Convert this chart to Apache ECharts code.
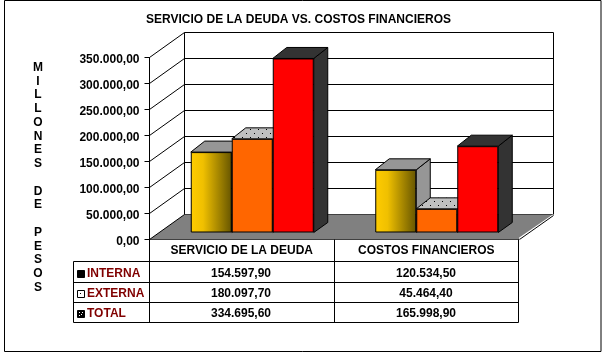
<!DOCTYPE html>
<html>
<head>
<meta charset="utf-8">
<style>html,body{margin:0;padding:0;background:#fff}#c{width:603px;height:359px}</style>
<script src="https://cdn.jsdelivr.net/npm/echarts@6/dist/echarts.min.js"></script>
</head>
<body>
<div id="c"></div>
<script>
const chartTitle = 'SERVICIO DE LA DEUDA VS. COSTOS FINANCIEROS';
const categories = ['SERVICIO DE LA DEUDA', 'COSTOS FINANCIEROS'];
const seriesNames = ['INTERNA', 'EXTERNA', 'TOTAL'];
const interna = [154597.90, 120534.50];
const externa = [180097.70, 45464.40];
const total = [334695.60, 165998.90];
const yTicks = [0, 50000, 100000, 150000, 200000, 250000, 300000, 350000];
const sideLabel = 'MILLONES DE PESOS';

const allSeries = [interna, externa, total];
const FONT = '"Liberation Sans", Arial, sans-serif';
const fmt = v => {
  const [a, b] = v.toFixed(2).split('.');
  return a.replace(/\B(?=(\d{3})+$)/g, '.') + ',' + b;
};

/* plane geometry */
const FRONT = {left: 149.5, top: 57.5, width: 369, height: 182};
const BACK = {left: 184.5, top: 32.5, width: 369, height: 182};
const BARS = {left: 160, top: 50.5, width: 369, height: 182};
const WALL_DX = BACK.left - FRONT.left, WALL_DY = BACK.top - FRONT.top;
const BW = 41, DX = 14, DY = -11;

/* dotted fill for the top of the second column */
function dotted() {
  const cv = document.createElement('canvas');
  cv.width = 8; cv.height = 8;
  const g = cv.getContext('2d');
  g.fillStyle = '#C0C0C0'; g.fillRect(0, 0, 8, 8);
  g.fillStyle = '#000';
  g.fillRect(2, 1, 1, 1); g.fillRect(6, 5, 1, 1);
  return {image: cv, repeat: 'repeat'};
}
const dotFill = dotted();
const frontFill = [
  {type: 'linear', x: 0, y: 0, x2: 1, y2: 0, colorStops: [
    {offset: 0, color: '#FFCC00'}, {offset: 0.3, color: '#F0C000'}, {offset: 1, color: '#665500'}]},
  '#FF6600', '#FF0000'];
const topFill = ['#969696', dotFill, '#333333'];
const sideFill = ['#969696', '#C0C0C0', '#333333'];

function axisBase(i, extra) {
  return Object.assign({gridIndex: i, min: 0, max: 350000, interval: 50000, type: 'value',
    axisLine: {show: false}, axisTick: {show: false}, axisLabel: {show: false}, splitLine: {show: false}}, extra);
}
function catBase(i, extra) {
  return Object.assign({gridIndex: i, type: 'category', data: categories,
    axisLine: {show: false}, axisTick: {show: false}, axisLabel: {show: false}, splitLine: {show: false}}, extra);
}

/* floor and side wall, on the front plane */
const floorSeries = {
  type: 'custom', xAxisIndex: 0, yAxisIndex: 0, silent: true, z: 1, clip: false,
  data: [[0, 0]],
  renderItem(params, api) {
    const cs = params.coordSys, y = api.coord([0, 0])[1], l = cs.x, r = cs.x + cs.width;
    return {type: 'group', children: [
      {type: 'polygon', shape: {points: [[l, y], [l + WALL_DX, y + WALL_DY], [r + WALL_DX, y + WALL_DY], [r, y]]},
        style: {fill: '#808080'}},
      {type: 'line', shape: {x1: r + 1, y1: y - 1, x2: r + WALL_DX + 1, y2: y + WALL_DY}, style: {stroke: '#fff', lineWidth: 2}},
      {type: 'line', shape: {x1: r + 1, y1: y, x2: r + WALL_DX, y2: y + WALL_DY + 1}, style: {stroke: '#000', lineWidth: 1}},
      {type: 'line', shape: {x1: l + WALL_DX, y1: y + WALL_DY, x2: l + WALL_DX, y2: cs.y + WALL_DY}, style: {stroke: '#000', lineWidth: 1}},
      {type: 'line', shape: {x1: r + WALL_DX, y1: y + WALL_DY, x2: r + WALL_DX, y2: cs.y + WALL_DY}, style: {stroke: '#000', lineWidth: 1}}
    ]};
  }
};
const wallSeries = {
  type: 'custom', xAxisIndex: 0, yAxisIndex: 0, silent: true, z: 2, clip: false,
  data: yTicks.map(v => [0, v]),
  renderItem(params, api) {
    const y = api.coord([0, api.value(1)])[1], l = params.coordSys.x;
    return {type: 'line', shape: {x1: l, y1: y, x2: l + WALL_DX, y2: y + WALL_DY}, style: {stroke: '#000', lineWidth: 1}};
  }
};

/* column tops and sides */
function faces(k) {
  return {
    type: 'custom', xAxisIndex: 2, yAxisIndex: 2, silent: true, z: 3 + k, clip: false,
    data: allSeries[k].map((v, i) => [i, v]),
    renderItem(params, api) {
      const i = api.value(0), p = api.coord([i, api.value(1)]), b = api.coord([i, 0]);
      const x0 = p[0] + (k - 1.5) * BW, x1 = x0 + BW, t = p[1], e = b[1];
      const ln = {stroke: '#000', lineWidth: 1};
      return {type: 'group', children: [
        {type: 'polygon', shape: {points: [[x1, t], [x1 + DX, t + DY], [x1 + DX, e + DY + 1], [x1, e]]},
          style: Object.assign({fill: sideFill[k]}, ln)},
        {type: 'polygon', shape: {points: [[x0, t], [x0 + DX, t + DY], [x1 + DX, t + DY], [x1, t]]},
          style: Object.assign({fill: topFill[k]}, ln)}
      ]};
    }
  };
}
/* column fronts */
function fronts(k) {
  return {
    type: 'bar', name: seriesNames[k], xAxisIndex: 2, yAxisIndex: 2, data: allSeries[k],
    barWidth: BW, barGap: 0, silent: true, z: 10,
    itemStyle: {color: frontFill[k], borderColor: '#000', borderWidth: 1}
  };
}

/* data table, side caption and frame */
const TX = [73.5, 149.5, 334.5, 518.5];
const TY = [239.5, 261.5, 282.5, 302.5, 322.5];
const COLC = [241, 426];
const gfx = [];
const line = (x1, y1, x2, y2) => gfx.push({type: 'line', silent: true, z: 20,
  shape: {x1, y1, x2, y2}, style: {stroke: '#000', lineWidth: 1}});
const text = (t, x, y, align, color, extra) => gfx.push({type: 'text', silent: true, z: 21, x, y,
  style: Object.assign({text: t, fill: color || '#000', font: 'bold 12px ' + FONT, align, verticalAlign: 'middle'}, extra)});

gfx.push({type: 'rect', silent: true, z: 19, shape: {x: 4.5, y: 0.5, width: 596.5, height: 351},
  style: {fill: 'none', stroke: '#000', lineWidth: 1}});
line(TX[0], TY[1], TX[3], TY[1]);
[2, 3, 4].forEach(r => line(TX[0], TY[r], TX[3], TY[r]));
line(TX[0], TY[1], TX[0], TY[4]);
[1, 2, 3].forEach(c => line(TX[c], TY[0], TX[c], TY[4]));

const ROWC = [274, 294, 314];
const KEYY = [270.5, 290.5, 310.5];
seriesNames.forEach((n, r) => {
  text(n, 87, ROWC[r], 'left', '#800000');
  const kx = 77.5, ky = KEYY[r];
  gfx.push({type: 'rect', silent: true, z: 21, shape: {x: kx, y: ky, width: 7, height: 7},
    style: {fill: r === 1 ? '#fff' : '#000', stroke: '#000', lineWidth: 1}});
  const dots = r === 1 ? [[3, 3]] : r === 2 ? [[2, 2], [4, 4], [2, 5], [5, 2]] : [];
  dots.forEach(d => gfx.push({type: 'rect', silent: true, z: 22,
    shape: {x: kx + d[0] - 0.5, y: ky + d[1] - 0.5, width: 1, height: 1},
    style: {fill: r === 1 ? '#000' : '#fff'}}));
  allSeries[r].forEach((v, c) => text(fmt(v), COLC[c], ROWC[r], 'center'));
});
Array.from(sideLabel).forEach((ch, i) => {
  if (ch !== ' ') text(ch, 38, 67.5 + i * 13.75, 'center', '#000');
});

const option = {
  backgroundColor: '#fff',
  animation: false,
  title: {text: chartTitle, left: 293.5, top: 9, textAlign: 'center',
    textStyle: {color: '#000', fontFamily: FONT, fontWeight: 'bold', fontSize: 12}},
  legend: {show: false},
  tooltip: {show: false},
  grid: [
    Object.assign({containLabel: false}, FRONT),
    Object.assign({containLabel: false}, BACK),
    Object.assign({containLabel: false}, BARS)
  ],
  xAxis: [
    catBase(0, {
      axisLine: {show: true, lineStyle: {color: '#000', width: 1}},
      axisLabel: {show: true, interval: 0, color: '#000', fontFamily: FONT, fontWeight: 'bold', fontSize: 12, margin: 5}
    }),
    catBase(1),
    catBase(2)
  ],
  yAxis: [
    axisBase(0, {
      axisLine: {show: true, lineStyle: {color: '#000', width: 1}},
      axisTick: {show: true, length: 5, lineStyle: {color: '#000', width: 1}},
      axisLabel: {show: true, color: '#000', fontFamily: FONT, fontWeight: 'bold', fontSize: 12, margin: 10,
        verticalAlign: 'top', padding: [-4, 0, 0, 0], formatter: v => fmt(v)}
    }),
    axisBase(1, {splitLine: {show: true, lineStyle: {color: '#000', width: 1, type: 'solid'}}}),
    axisBase(2)
  ],
  series: [
    floorSeries, wallSeries,
    {type: 'bar', xAxisIndex: 1, yAxisIndex: 1, data: [], silent: true},
    faces(0), faces(1), faces(2),
    fronts(0), fronts(1), fronts(2)
  ],
  graphic: {elements: gfx}
};
const chart = echarts.init(document.getElementById('c'), null, {renderer: 'canvas'});
chart.setOption(option);
</script>
</body>
</html>
